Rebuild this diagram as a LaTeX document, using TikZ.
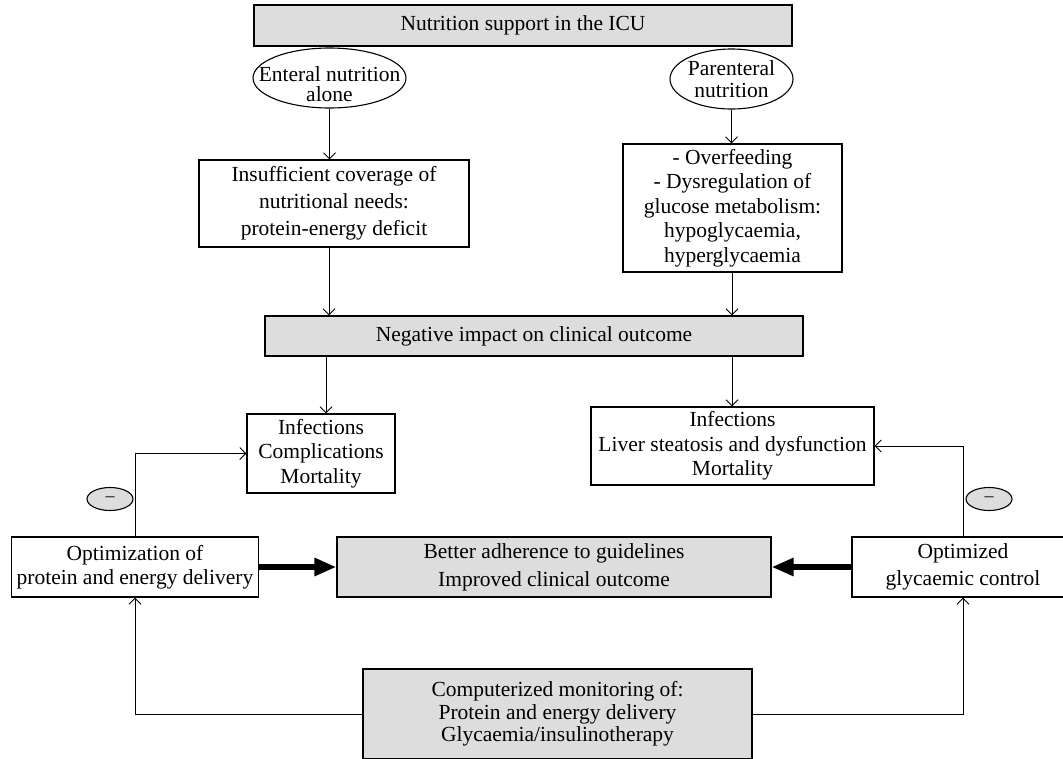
\documentclass[tikz,border=0pt]{standalone}
\usepackage{fontspec}
\setmainfont{Liberation Serif}
\usetikzlibrary{arrows.meta,shapes.geometric}
\definecolor{boxgray}{RGB}{221,221,221}
\newcommand\bodyfont{\fontsize{21.5}{24.5}\selectfont}
\begin{document}
\begin{tikzpicture}[x=1pt,y=-1pt,
  box/.style={draw, line width=1.1pt, inner sep=0pt, align=center, font=\bodyfont},
  gbox/.style={box, fill=boxgray},
  ell/.style={draw, ellipse, line width=1.1pt, inner sep=0pt},
  gell/.style={ell, fill=boxgray, minimum width=46pt, minimum height=23pt, font=\fontsize{18}{18}\selectfont},
  lbl/.style={font=\bodyfont, align=center, inner sep=0pt},
  arr/.style={line width=1pt, -{Straight Barb[length=6pt,width=12pt]}},
  fat/.style={line width=6pt, -{Triangle[length=22pt,width=17pt]}}
]
\useasboundingbox (0,0) rectangle (1063,758);
\clip (0,0) rectangle (1063,758);

\node[gbox, minimum width=538pt, minimum height=41pt] (top) at (523,25.5) {Nutrition support in the ICU};

\node[ell, minimum width=153pt, minimum height=60pt] (en) at (329.5,78) {};
\node[lbl] (enT) at (329.5,84) {Enteral nutrition\\[-4pt]alone};
\node[ell, minimum width=123pt, minimum height=60pt] (par) at (731.5,79) {};
\node[lbl] (parT) at (731.5,79) {Parenteral\\[-3pt]nutrition};

\node[box, minimum width=270pt, minimum height=87pt] (ins) at (334,203.5) {Insufficient coverage of\\[2.5pt]nutritional needs:\\[2.5pt]protein-energy deficit};
\node[box, minimum width=219pt, minimum height=128pt] (ovf) at (732.5,208) {- Overfeeding\\- Dysregulation of\\glucose metabolism:\\hypoglycaemia,\\hyperglycaemia};

\node[gbox, minimum width=538pt, minimum height=40pt] (neg) at (534,336) {Negative impact on clinical outcome};

\node[box, minimum width=148pt, minimum height=79pt] (infL) at (321,453.5) {Infections\\Complications\\Mortality};
\node[box, minimum width=283pt, minimum height=78pt] (infR) at (732.5,446) {Infections\\Liver steatosis and dysfunction\\Mortality};

\node[box, minimum width=247pt, minimum height=60pt] (optL) at (135,567) {Optimization of\\protein and energy delivery};
\node[gbox, minimum width=434pt, minimum height=60pt] (better) at (554,567) {Better adherence to guidelines\\[3.5pt]Improved clinical outcome};
\node[box, minimum width=222pt, minimum height=60pt] (optR) at (963,567) {Optimized\\[3pt]glycaemic control};

\node[gbox, minimum width=389pt, minimum height=90pt] (comp) at (557.5,714) {Computerized monitoring of:\\[-2pt]Protein and energy delivery\\[-2pt]Glycaemia/insulinotherapy};

\node[gell] (mL) at (110,499) {\textendash};
\node[gell] (mR) at (989,499) {\textendash};

\coordinate (cL) at (329,0);
\coordinate (cLb) at (326,0);
\coordinate (cR) at (732,0);

\draw[arr] (en.south) -- (en.south |- ins.north);
\draw[arr] (par.south) -- (par.south |- ovf.north);
\draw[arr] (ins.south -| cL) -- (neg.north -| cL);
\draw[arr] (ovf.south -| cR) -- (neg.north -| cR);
\draw[arr] (neg.south -| cLb) -- (infL.north -| cLb);
\draw[arr] (neg.south -| cR) -- (infR.north -| cR);
\draw[arr] (optL.north) |- (infL.west);
\draw[arr] (optR.north) |- (infR.east);
\draw[arr] (comp.west) -| (optL.south);
\draw[arr] (comp.east) -| (optR.south);
\draw[fat] (optL.east) -- (better.west);
\draw[fat] (optR.west) -- (better.east);
\end{tikzpicture}
\end{document}
